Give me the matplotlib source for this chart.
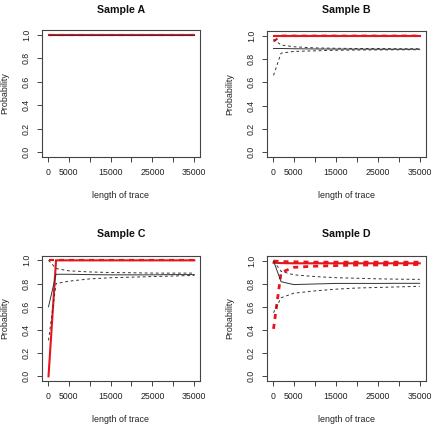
import matplotlib
matplotlib.use("Agg")
import matplotlib.pyplot as plt

plt.rcParams['font.family'] = ['Liberation Sans', 'DejaVu Sans']
plt.rcParams['lines.scale_dashes'] = False

W, H = 434, 424

x = [200, 2000, 5000, 10000, 15000, 20000, 25000, 30000, 35000]
x_ticks = [0, 5000, 10000, 15000, 20000, 25000, 30000, 35000]
x_tick_labels = ['0', '5000', '', '15000', '', '25000', '', '35000']
y_ticks = [0.0, 0.2, 0.4, 0.6, 0.8, 1.0]
y_tick_labels = ['0.0', '0.2', '0.4', '0.6', '0.8', '1.0']

titles = ['Sample A', 'Sample B', 'Sample C', 'Sample D']

# Sample A
a_est = [1.0] * 9
a_lo = [1.0] * 9
a_hi = [1.0] * 9
a_red = [1.0] * 9
a_red_lo = [1.0] * 9
a_red_hi = [1.0] * 9

# Sample B
b_est = [0.89, 0.89, 0.888, 0.886, 0.885, 0.885, 0.884, 0.884, 0.884]
b_lo = [0.66, 0.85, 0.865, 0.87, 0.875, 0.877, 0.878, 0.879, 0.88]
b_hi = [0.97, 0.92, 0.905, 0.895, 0.892, 0.89, 0.89, 0.888, 0.888]
b_red = [1.0] * 9
b_red_lo = [0.95, 1.0, 1.0, 1.0, 1.0, 1.0, 1.0, 1.0, 1.0]
b_red_hi = [1.0] * 9

# Sample C
c_est = [0.6, 0.88, 0.88, 0.877, 0.875, 0.875, 0.875, 0.877, 0.877]
c_lo = [0.31, 0.80, 0.82, 0.84, 0.85, 0.855, 0.86, 0.865, 0.87]
c_hi = [1.0, 0.93, 0.91, 0.90, 0.895, 0.893, 0.89, 0.89, 0.89]
c_red = [0.0, 1.0, 1.0, 1.0, 1.0, 1.0, 1.0, 1.0, 1.0]
c_red_lo = [1.0] * 9
c_red_hi = [1.0] * 9

# Sample D
d_est = [1.0, 0.82, 0.795, 0.80, 0.805, 0.805, 0.805, 0.806, 0.806]
d_lo = [0.55, 0.68, 0.72, 0.74, 0.755, 0.765, 0.77, 0.775, 0.78]
d_hi = [1.0, 0.91, 0.88, 0.865, 0.855, 0.85, 0.845, 0.842, 0.84]
d_red = [0.985, 0.982, 0.98, 0.98, 0.98, 0.98, 0.98, 0.98, 0.98]
d_red_lo = [0.41, 0.90, 0.945, 0.955, 0.96, 0.965, 0.965, 0.968, 0.97]
d_red_hi = [1.0, 0.995, 0.993, 0.99, 0.99, 0.99, 0.99, 0.99, 0.99]

series = [
    (a_est, a_lo, a_hi, a_red, a_red_lo, a_red_hi),
    (b_est, b_lo, b_hi, b_red, b_red_lo, b_red_hi),
    (c_est, c_lo, c_hi, c_red, c_red_lo, c_red_hi),
    (d_est, d_lo, d_hi, d_red, d_red_lo, d_red_hi),
]

# axes boxes in pixels: left, right, top, bottom
boxes = [
    (41.8, 200.2, 30.3, 156.7),
    (266.8, 425.6, 31.0, 157.0),
    (41.8, 200.2, 255.7, 381.0),
    (266.8, 425.6, 256.4, 380.6),
]
title_y = [10, 10, 234, 234]
xlabel_y = [195, 195, 419, 419]

fig = plt.figure(figsize=(W / 100, H / 100), dpi=100)
fig.patch.set_facecolor('white')

txt_col = '#222222'
for i, (l, r, t, b) in enumerate(boxes):
    ax = fig.add_axes([l / W, 1 - b / H, (r - l) / W, (b - t) / H])
    est, lo, hi, red, red_lo, red_hi = series[i]
    red_lw = 2.0 if i == 3 else 1.5
    ax.plot(x, red, color='#e8141b', lw=1.5, solid_joinstyle='miter')
    ax.plot(x, red_lo, color='#e8141b', lw=red_lw, dashes=(3.6, 3.6))
    ax.plot(x, red_hi, color='#e8141b', lw=red_lw, dashes=(3.6, 3.6))
    ax.plot(x, est, color='#333333', lw=0.7)
    ax.plot(x, lo, color='#333333', lw=0.7, dashes=(2.0, 2.0))
    ax.plot(x, hi, color='#333333', lw=0.7, dashes=(2.0, 2.0))

    ax.set_xlim(-1400, 36400)
    ax.set_ylim(-0.04, 1.04)
    ax.set_xticks(x_ticks)
    ax.set_xticklabels(x_tick_labels)
    ax.set_yticks(y_ticks)
    ax.set_yticklabels(y_tick_labels, rotation=90, va='center')
    ax.tick_params(axis='both', length=3.6, width=0.7, color='#444444',
                   labelsize=6.3, labelcolor=txt_col, pad=4.3)
    for s in ax.spines.values():
        s.set_color('#444444')
        s.set_linewidth(0.8)

    cx = (l + r) / 2
    fig.text(cx / W, 1 - title_y[i] / H, titles[i], ha='center', va='center',
             fontsize=7.7, fontweight='bold', color='#111111')
    fig.text(cx / W, 1 - xlabel_y[i] / H, 'length of trace', ha='center',
             va='center', fontsize=6.4, color=txt_col)
    fig.text((l - 37) / W, 1 - ((t + b) / 2) / H, 'Probability', ha='center',
             va='center', rotation=90, fontsize=6.4, color=txt_col)

fig.savefig('out.png', dpi=100, facecolor='white')
